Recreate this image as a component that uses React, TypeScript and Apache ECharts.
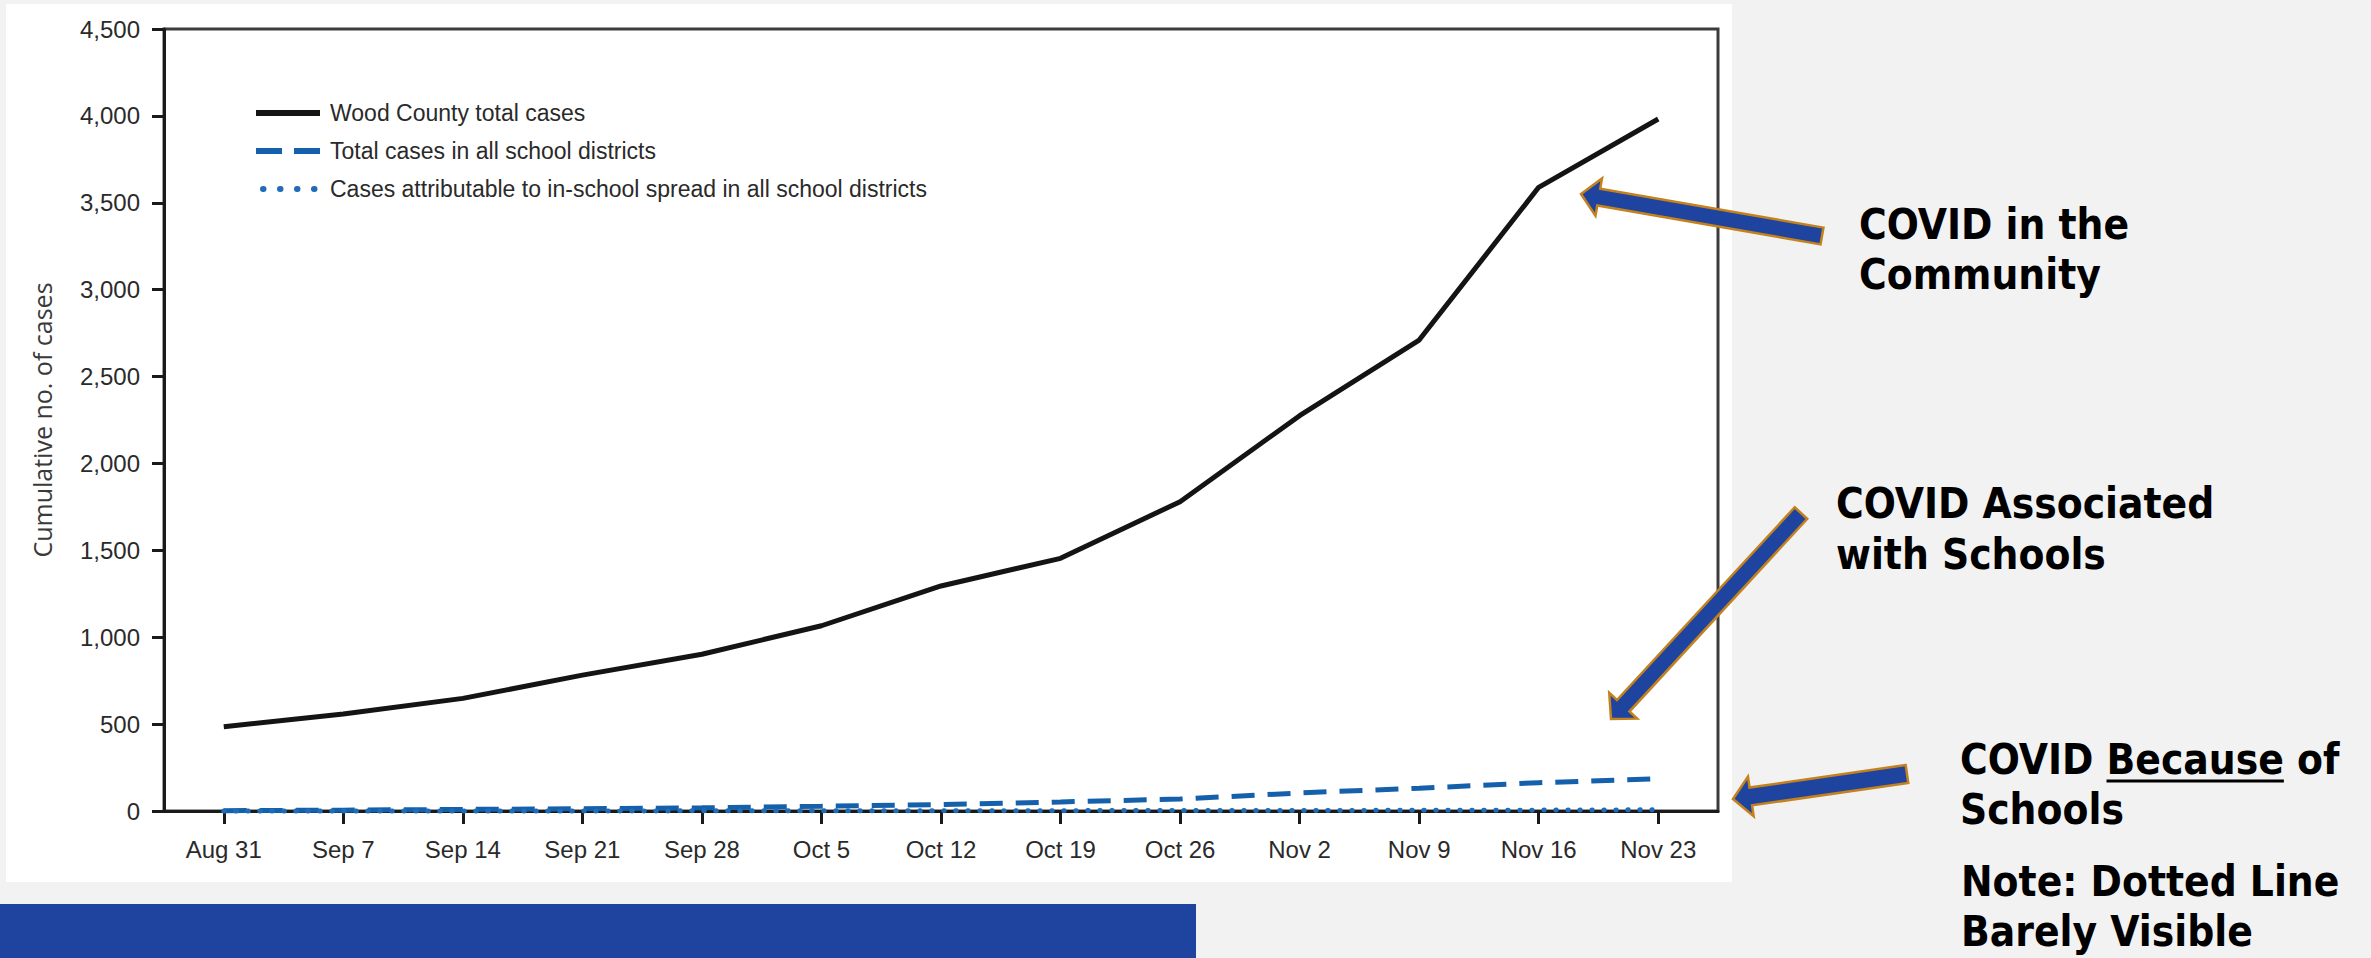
import React, { useEffect, useRef } from "react";
import * as echarts from "echarts";

// Weekly x-axis categories (week starting)
const weekLabels = [
  "Aug 31", "Sep 7", "Sep 14", "Sep 21", "Sep 28", "Oct 5", "Oct 12",
  "Oct 19", "Oct 26", "Nov 2", "Nov 9", "Nov 16", "Nov 23",
];

// Cumulative case counts per week
const countyCases = [485, 558, 648, 782, 902, 1066, 1295, 1454, 1780, 2275, 2710, 3589, 3982];
const schoolDistrictCases = [2, 5, 9, 13, 18, 27, 37, 52, 69, 104, 131, 163, 185];
const inSchoolSpreadCases = [0, 0, 0, 0, 1, 1, 1, 2, 3, 3, 4, 5, 7];

const seriesNames = [
  "Wood County total cases",
  "Total cases in all school districts",
  "Cases attributable to in-school spread in all school districts",
];

// Y-axis scale
const yMin = 0;
const yMax = 4500;
const yStep = 500;
const yAxisTitle = "Cumulative no. of cases";

// Callout texts beside the chart
const calloutCommunity = ["COVID in the", "Community"];
const calloutAssociated = ["COVID Associated", "with Schools"];
const calloutBecausePre = "COVID ";
const calloutBecauseWord = "Because";
const calloutBecausePost = " of";
const calloutBecauseLine2 = "Schools";
const calloutNote = ["Note: Dotted Line", "Barely Visible"];

const W = 2371;
const H = 958;

const LABEL_FONT = "'Liberation Sans', Arial, sans-serif";
const CALLOUT_FONT = "'DejaVu Sans Condensed', 'DejaVu Sans', sans-serif";
const CALLOUT_SIZE = 42;

const COUNTY_COLOR = "#141414";
const SCHOOL_COLOR = "#1560aa";
const SPREAD_COLOR = "#1f6cb8";
const SCHOOL_DASH = [23, 13];
const SPREAD_DOT = [0.5, 11.5];

type Pt = [number, number];

// Block arrow outline from tail to tip
function arrowPoints(tail: Pt, tip: Pt, shaft: number, head: number, headLen: number): Pt[] {
  const dx = tip[0] - tail[0];
  const dy = tip[1] - tail[1];
  const L = Math.hypot(dx, dy);
  const ux = dx / L;
  const uy = dy / L;
  const nx = -uy;
  const ny = ux;
  const bx = tip[0] - ux * headLen;
  const by = tip[1] - uy * headLen;
  const s = shaft / 2;
  const h = head / 2;
  return [
    [tail[0] + nx * s, tail[1] + ny * s],
    [bx + nx * s, by + ny * s],
    [bx + nx * h, by + ny * h],
    [tip[0], tip[1]],
    [bx - nx * h, by - ny * h],
    [bx - nx * s, by - ny * s],
    [tail[0] - nx * s, tail[1] - ny * s],
  ];
}

function measure(text: string): number {
  const c = document.createElement("canvas");
  const ctx = c.getContext("2d");
  if (!ctx) return text.length * CALLOUT_SIZE * 0.55;
  ctx.font = `bold ${CALLOUT_SIZE}px ${CALLOUT_FONT}`;
  return ctx.measureText(text).width;
}

export default function App() {
  const ref = useRef<HTMLDivElement>(null);

  useEffect(() => {
    if (!ref.current) return;
    const chart = echarts.init(ref.current, undefined, { renderer: "svg" });

    const arrowStyle = { fill: "#1f44a0", stroke: "#c4821e", lineWidth: 2.5 };
    const calloutStyle = (text: string, lineHeight: number) => ({
      text,
      fill: "#000000",
      fontFamily: CALLOUT_FONT,
      fontWeight: "bold",
      fontSize: CALLOUT_SIZE,
      lineHeight,
      align: "left",
      verticalAlign: "middle",
      textAlign: "left",
      textVerticalAlign: "middle",
    });

    const becauseX = 1960;
    const preW = measure(calloutBecausePre);
    const wordW = measure(calloutBecauseWord);

    const option: any = {
      animation: false,
      backgroundColor: "#f2f2f2",
      textStyle: { fontFamily: LABEL_FONT },
      grid: {
        left: 164,
        top: 29,
        width: 1554,
        height: 782,
        show: true,
        borderColor: "#3c3c3c",
        borderWidth: 3,
        backgroundColor: "transparent",
      },
      legend: {
        orient: "vertical",
        left: 248,
        top: 96,
        itemWidth: 64,
        itemHeight: 24,
        itemGap: 14,
        itemStyle: { opacity: 0, borderWidth: 0 },
        data: [
          {
            name: seriesNames[0],
            itemStyle: { opacity: 0 },
            lineStyle: { color: COUNTY_COLOR, width: 6, type: "solid" },
          },
          {
            name: seriesNames[1],
            itemStyle: { opacity: 0 },
            lineStyle: { color: SCHOOL_COLOR, width: 6, type: [26, 12] },
          },
          {
            name: seriesNames[2],
            itemStyle: { opacity: 0 },
            lineStyle: {
              color: SPREAD_COLOR,
              width: 6,
              type: [0.5, 16.5],
              dashOffset: -7,
              cap: "round",
            },
          },
        ],
        textStyle: {
          fontFamily: LABEL_FONT,
          fontSize: 23,
          color: "#2a2a2a",
          lineHeight: 24,
          padding: [0, 0, 0, 5],
        },
      },
      xAxis: {
        type: "category",
        data: weekLabels,
        boundaryGap: true,
        axisLine: { show: true, lineStyle: { color: "#1a1a1a", width: 3 } },
        axisTick: {
          show: true,
          alignWithLabel: true,
          length: 13,
          lineStyle: { color: "#1a1a1a", width: 3 },
        },
        axisLabel: {
          interval: 0,
          margin: 26,
          fontSize: 24,
          color: "#2a2a2a",
          fontFamily: LABEL_FONT,
        },
        splitLine: { show: false },
      },
      yAxis: {
        type: "value",
        min: yMin,
        max: yMax,
        interval: yStep,
        name: yAxisTitle,
        nameLocation: "middle",
        nameRotate: 90,
        nameGap: 110,
        nameTextStyle: { fontFamily: "'Open Sans', sans-serif", fontSize: 25, color: "#3a3a3a" },
        axisLine: { show: true, lineStyle: { color: "#1a1a1a", width: 3 } },
        axisTick: { show: true, length: 12, lineStyle: { color: "#1a1a1a", width: 3 } },
        axisLabel: {
          margin: 24,
          fontSize: 24,
          color: "#2a2a2a",
          fontFamily: LABEL_FONT,
          formatter: (v: number) => v.toLocaleString("en-US"),
        },
        splitLine: { show: false },
      },
      series: [
        {
          name: seriesNames[0],
          type: "line",
          data: countyCases,
          symbol: "none",
          clip: false,
          z: 4,
          itemStyle: { color: COUNTY_COLOR },
          lineStyle: { color: COUNTY_COLOR, width: 5 },
        },
        {
          name: seriesNames[1],
          type: "line",
          data: schoolDistrictCases,
          symbol: "none",
          clip: false,
          z: 3,
          itemStyle: { color: SCHOOL_COLOR },
          lineStyle: { color: SCHOOL_COLOR, width: 5, type: SCHOOL_DASH },
        },
        {
          name: seriesNames[2],
          type: "line",
          data: inSchoolSpreadCases,
          symbol: "none",
          clip: false,
          z: 5,
          itemStyle: { color: SPREAD_COLOR },
          lineStyle: { color: SPREAD_COLOR, width: 5, type: SPREAD_DOT, cap: "round" },
        },
      ],
      graphic: {
        elements: [
          {
            type: "rect",
            z: -1,
            silent: true,
            shape: { x: 6, y: 4, width: 1726, height: 878 },
            style: { fill: "#ffffff" },
          },
          {
            type: "rect",
            z: -1,
            silent: true,
            shape: { x: 0, y: 904, width: 1196, height: 54 },
            style: { fill: "#1f44a0" },
          },
          {
            type: "polygon",
            z: 20,
            shape: { points: arrowPoints([1822, 236], [1581, 194], 17, 38, 18) },
            style: arrowStyle,
          },
          {
            type: "polygon",
            z: 20,
            shape: { points: arrowPoints([1801, 513], [1611, 719], 17, 38, 18) },
            style: arrowStyle,
          },
          {
            type: "polygon",
            z: 20,
            shape: { points: arrowPoints([1907, 774], [1733, 799], 18, 40, 18) },
            style: arrowStyle,
          },
          {
            type: "text",
            z: 20,
            x: 1859,
            y: 249,
            style: calloutStyle(calloutCommunity.join("\n"), 50),
          },
          {
            type: "text",
            z: 20,
            x: 1836,
            y: 529,
            style: calloutStyle(calloutAssociated.join("\n"), 51),
          },
          {
            type: "text",
            z: 20,
            x: becauseX,
            y: 784,
            style: calloutStyle(
              calloutBecausePre + calloutBecauseWord + calloutBecausePost + "\n" + calloutBecauseLine2,
              50
            ),
          },
          {
            type: "line",
            z: 20,
            shape: { x1: becauseX + preW, y1: 781, x2: becauseX + preW + wordW, y2: 781 },
            style: { stroke: "#000000", lineWidth: 3 },
          },
          {
            type: "text",
            z: 20,
            x: 1961,
            y: 906,
            style: calloutStyle(calloutNote.join("\n"), 50),
          },
        ],
      },
    };

    chart.setOption(option);
    return () => {
      chart.dispose();
    };
  }, []);

  return (
    <div
      ref={ref}
      style={{ position: "absolute", left: 0, top: 0, width: W, height: H, background: "#f2f2f2" }}
    />
  );
}
